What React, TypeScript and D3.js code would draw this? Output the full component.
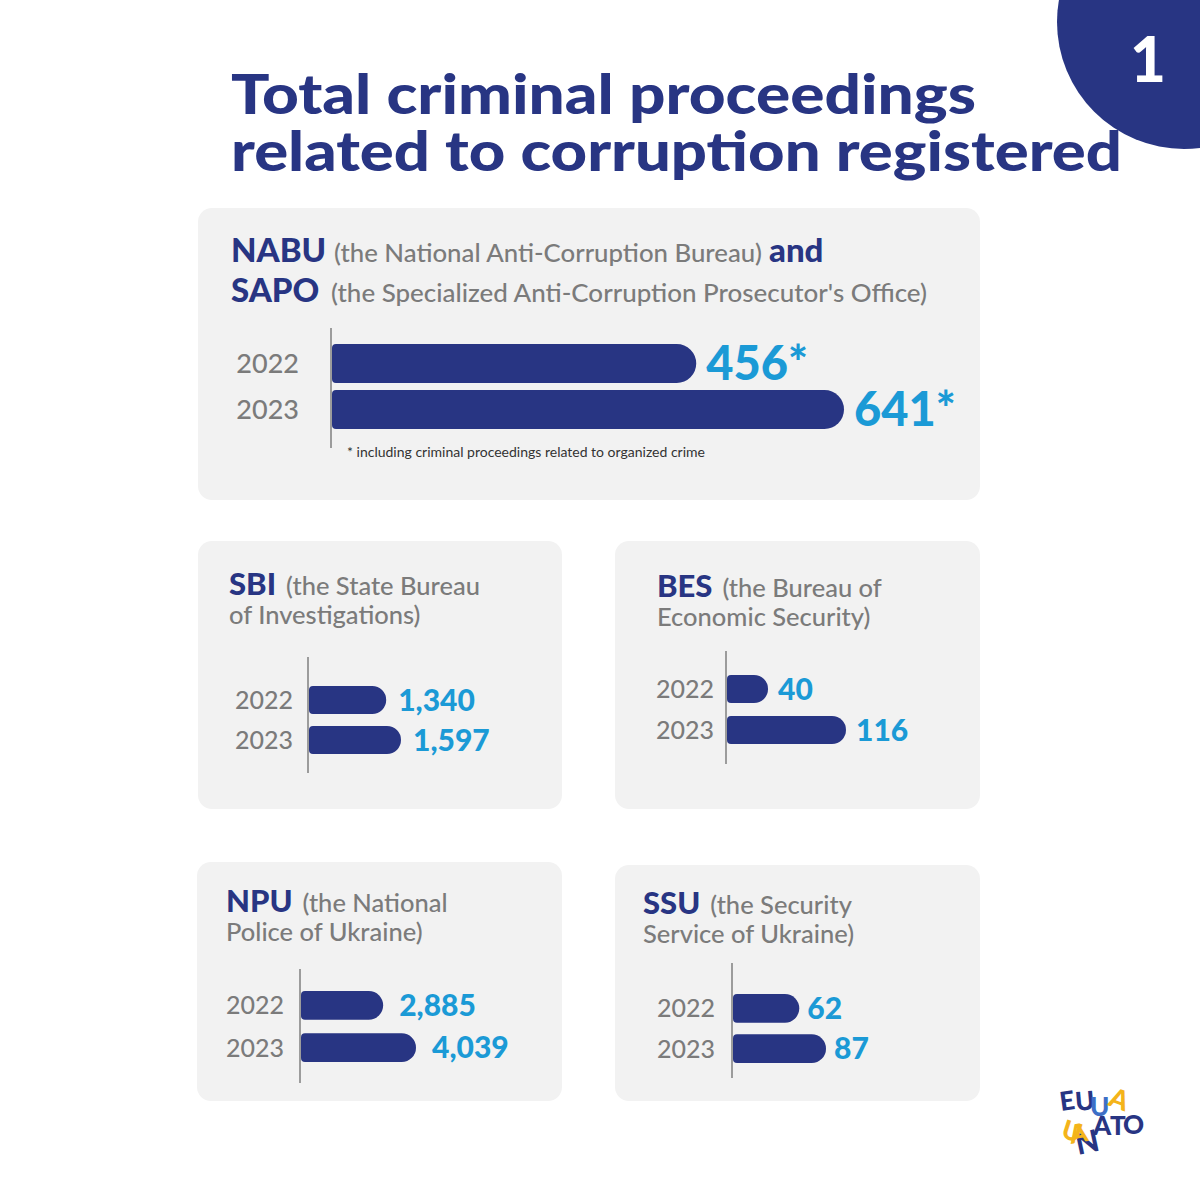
import * as d3 from 'd3';
import React from 'react';

// Data read from the infographic
const years = ['2022', '2023'];
const nabuValues = [456, 641];
const sbiValues = [1340, 1597];
const besValues = [40, 116];
const npuValues = [2885, 4039];
const ssuValues = [62, 87];

// Colours
const NAVY = '#283583';
const BLUE = '#1b9ad6';
const GRAY = '#7b7b7b';
const PANEL = '#f2f2f2';
const AXIS = '#9c9c9c';
const YELLOW = '#f4b41a';
const FONT = 'Lato, "Open Sans", sans-serif';

const fmt = d3.format(',');

// bar with a fully rounded right end and slightly rounded left corners
function barPath(x0: number, x1: number, y0: number, h: number) {
    const r = h / 2;
    const rl = 4;
    return `M${x0 + rl},${y0} H${x1 - r} A${r},${r} 0 0 1 ${x1 - r},${y0 + h} H${x0 + rl} ` +
        `Q${x0},${y0 + h} ${x0},${y0 + h - rl} V${y0 + rl} Q${x0},${y0} ${x0 + rl},${y0} Z`;
}

type GroupProps = {
    values: number[];
    axisX: number;
    bandRange: [number, number];
    padding: number;
    maxLen: number;
    axisSpan: [number, number];
    yearSize: number;
    yearGap: number;
    valueSize: number;
    valueGap: number;
    suffix?: string;
};

function BarGroup({ values, axisX, bandRange, padding, maxLen, axisSpan, yearSize, yearGap, valueSize, valueGap, suffix = '' }: GroupProps) {
    const x = d3.scaleLinear().domain([0, d3.max(values) as number]).range([0, maxLen]);
    const y = d3.scaleBand<string>().domain(years).range(bandRange).paddingInner(padding).paddingOuter(0);
    const bw = y.bandwidth();
    const x0 = axisX + 1;
    return (
        <g>
            {values.map((v, i) => {
                const top = y(years[i]) as number;
                const mid = top + bw / 2;
                return (
                    <g key={years[i]}>
                        <path d={barPath(x0, x0 + x(v), top, bw)} fill={NAVY} />
                        <text x={axisX - yearGap} y={mid + yearSize * 0.36} textAnchor="end"
                            fontFamily={FONT} fontSize={yearSize} fontWeight={500} fill={GRAY}>{years[i]}</text>
                        <text x={x0 + x(v) + valueGap} y={mid + valueSize * 0.36}
                            fontFamily={FONT} fontSize={valueSize} fontWeight={900} fill={BLUE}>{fmt(v) + suffix}</text>
                    </g>
                );
            })}
            <line x1={axisX} x2={axisX} y1={axisSpan[0]} y2={axisSpan[1]} stroke={AXIS} strokeWidth={2} />
        </g>
    );
}

function Heading({ x, y, bold, rest, line2, size = 31, sub = 25.5, gap = 10, lineH = 29 }:
    { x: number; y: number; bold: string; rest: string; line2: string; size?: number; sub?: number; gap?: number; lineH?: number }) {
    return (
        <g fontFamily={FONT}>
            <text x={x} y={y}>
                <tspan fontSize={size} fontWeight={900} fill={NAVY}>{bold}</tspan>
                <tspan dx={gap} fontSize={sub} fontWeight={500} fill={GRAY}>{rest}</tspan>
            </text>
            <text x={x} y={y + lineH} fontSize={sub} fontWeight={500} fill={GRAY}>{line2}</text>
        </g>
    );
}

function Logo() {
    const letter = (ch: string, x: number, y: number, c: string, rot = 0, size = 26) => (
        <text key={ch + x} x={x} y={y} fill={c} fontFamily={FONT} fontSize={size} fontWeight={900}
            transform={`rotate(${rot},${x},${y})`}>{ch}</text>
    );
    return (
        <g>
            {letter('U', 1076, 1111, NAVY, -5)}
            {letter('E', 1061, 1111, NAVY, -8)}
            {letter('U', 1090, 1116, '#3d6fc6')}
            {letter('A', 1107, 1105, YELLOW, 20, 27)}
            {letter('N', 1078, 1155, NAVY, -12, 30)}
            {letter('A', 1093, 1135, NAVY)}
            {letter('T', 1110, 1135, NAVY)}
            {letter('O', 1123, 1134, NAVY)}
            {letter('U', 1060, 1137, YELLOW, 18)}
            {letter('A', 1071, 1144, YELLOW, -10)}
        </g>
    );
}

export default function App() {
    return (
        <svg width={1200} height={1200} viewBox="0 0 1200 1200"
            style={{ position: 'absolute', left: 0, top: 0, background: '#ffffff' }}>
            <rect width={1200} height={1200} fill="#ffffff" />

            {/* corner badge */}
            <circle cx={1184} cy={22} r={127} fill={NAVY} />
            <text x={1148} y={82} textAnchor="middle" fontFamily={FONT} fontSize={62} fontWeight={900} fill="#ffffff">1</text>

            {/* title */}
            <g fontFamily={FONT} fontWeight={900} fill={NAVY} fontSize={55}>
                <text x={231} y={114} textLength={745} lengthAdjust="spacingAndGlyphs">Total criminal proceedings</text>
                <text x={231} y={171} textLength={891} lengthAdjust="spacingAndGlyphs">related to corruption registered</text>
            </g>

            {/* panels */}
            <rect x={198} y={208} width={782} height={292} rx={14} fill={PANEL} />
            <rect x={198} y={541} width={364} height={268} rx={14} fill={PANEL} />
            <rect x={615} y={541} width={365} height={268} rx={14} fill={PANEL} />
            <rect x={197} y={862} width={365} height={239} rx={14} fill={PANEL} />
            <rect x={615} y={865} width={365} height={236} rx={14} fill={PANEL} />

            {/* NABU / SAPO */}
            <g fontFamily={FONT}>
                <text x={231} y={262} fontSize={33} fontWeight={900} fill={NAVY}>NABU</text>
                <text x={334} y={262} fontSize={25} fontWeight={500} fill={GRAY}
                    textLength={428} lengthAdjust="spacingAndGlyphs">(the National Anti-Corruption Bureau)</text>
                <text x={769} y={262} fontSize={33} fontWeight={900} fill={NAVY}>and</text>
                <text x={231} y={302} fontSize={33} fontWeight={900} fill={NAVY}>SAPO</text>
                <text x={331} y={302} fontSize={25} fontWeight={500} fill={GRAY}
                    textLength={596} lengthAdjust="spacingAndGlyphs">(the Specialized Anti-Corruption Prosecutor's Office)</text>
                <text x={347} y={457} fontSize={14} fill="#333333">* including criminal proceedings related to organized crime</text>
            </g>
            <BarGroup values={nabuValues} axisX={331} bandRange={[344, 429]} padding={0.152} maxLen={512}
                axisSpan={[328, 448]} yearSize={27} yearGap={32} valueSize={47} valueGap={10} suffix="*" />

            {/* SBI */}
            <Heading x={229} y={595} bold="SBI" rest="(the State Bureau" line2="of Investigations)" />
            <BarGroup values={sbiValues} axisX={308} bandRange={[686, 754]} padding={0.3} maxLen={92}
                axisSpan={[657, 773]} yearSize={25} yearGap={15} valueSize={30} valueGap={12} />

            {/* BES */}
            <Heading x={657} y={597} bold="BES" rest="(the Bureau of" line2="Economic Security)" />
            <BarGroup values={besValues} axisX={726} bandRange={[675, 744]} padding={0.317} maxLen={119}
                axisSpan={[651, 764]} yearSize={25} yearGap={12} valueSize={30} valueGap={10} />

            {/* NPU */}
            <Heading x={226} y={912} bold="NPU" rest="(the National" line2="Police of Ukraine)" />
            <BarGroup values={npuValues} axisX={300} bandRange={[991, 1062]} padding={0.32} maxLen={115}
                axisSpan={[969, 1083]} yearSize={25} yearGap={16} valueSize={30} valueGap={16} />

            {/* SSU */}
            <Heading x={643} y={914} bold="SSU" rest="(the Security" line2="Service of Ukraine)" />
            <BarGroup values={ssuValues} axisX={732} bandRange={[994, 1063]} padding={0.29} maxLen={93}
                axisSpan={[963, 1078]} yearSize={25} yearGap={17} valueSize={30} valueGap={8} />

            <Logo />
        </svg>
    );
}
